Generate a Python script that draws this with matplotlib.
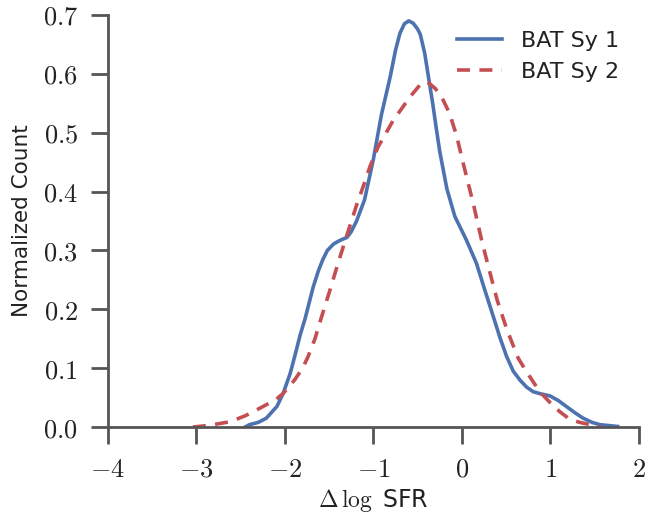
import numpy as np
import matplotlib
matplotlib.use('Agg')
import matplotlib.pyplot as plt

# curves (Delta log SFR, normalized count)
sy1_x = [-2.45, -2.40, -2.30, -2.21, -2.09, -2.02, -1.94, -1.87, -1.83, -1.77,
         -1.68, -1.62, -1.57, -1.52, -1.45, -1.38, -1.30, -1.25, -1.19, -1.10,
         -1.00, -0.91, -0.81, -0.75, -0.70, -0.65, -0.60, -0.55, -0.50, -0.47,
         -0.42, -0.38, -0.33, -0.29, -0.25, -0.17, -0.08, 0.05, 0.165, 0.25,
         0.35, 0.43, 0.505, 0.58, 0.655, 0.73, 0.806, 0.90, 0.994, 1.09,
         1.18, 1.28, 1.37, 1.47, 1.56, 1.76]
sy1_y = [0.0, 0.004, 0.008, 0.015, 0.035, 0.057, 0.091, 0.131, 0.155, 0.185,
         0.238, 0.266, 0.285, 0.300, 0.311, 0.317, 0.322, 0.332, 0.350, 0.386,
         0.455, 0.530, 0.595, 0.640, 0.669, 0.685, 0.690, 0.686, 0.676, 0.667,
         0.635, 0.597, 0.550, 0.508, 0.468, 0.405, 0.358, 0.318, 0.278, 0.237,
         0.190, 0.152, 0.120, 0.095, 0.080, 0.068, 0.060, 0.056, 0.053, 0.045,
         0.035, 0.024, 0.015, 0.008, 0.004, 0.001]

sy2_x = [-3.04, -2.85, -2.62, -2.45, -2.245, -2.10, -2.02, -1.89, -1.80, -1.74,
         -1.66, -1.59, -1.49, -1.40, -1.28, -1.19, -1.10, -1.04, -0.95, -0.87,
         -0.78, -0.68, -0.58, -0.475, -0.42, -0.38, -0.30, -0.22, -0.14, -0.06,
         0.015, 0.128, 0.222, 0.30, 0.40, 0.51, 0.636, 0.73, 0.88, 1.00,
         1.107, 1.22, 1.33, 1.45, 1.56]
sy2_y = [0.0, 0.003, 0.009, 0.019, 0.035, 0.047, 0.057, 0.080, 0.100, 0.119,
         0.150, 0.185, 0.233, 0.278, 0.335, 0.377, 0.415, 0.442, 0.475, 0.496,
         0.520, 0.541, 0.562, 0.581, 0.587, 0.585, 0.575, 0.558, 0.533, 0.495,
         0.448, 0.380, 0.318, 0.272, 0.215, 0.165, 0.117, 0.094, 0.060, 0.041,
         0.026, 0.013, 0.008, 0.004, 0.0]

xticks = [-4, -3, -2, -1, 0, 1, 2]
yticks = [0.0, 0.1, 0.2, 0.3, 0.4, 0.5, 0.6, 0.7]

plt.rcParams['mathtext.fontset'] = 'cm'
plt.rcParams['font.family'] = ['DejaVu Sans']

fig = plt.figure(figsize=(6.46, 5.17), dpi=100)
ax = fig.add_axes([0.167, 0.174, 0.822, 0.797])

ax.plot(sy1_x, sy1_y, color='#4C72B0', linewidth=2.6, label='BAT Sy 1',
        solid_joinstyle='round')
ax.plot(sy2_x, sy2_y, color='#C44E52', linewidth=2.6, dashes=(3.6, 2.6),
        label='BAT Sy 2')

ax.set_xlim(-4, 2)
ax.set_ylim(0, 0.7)
ax.set_xticks(xticks)
ax.set_yticks(yticks)
ax.set_xticklabels([r'$%d$' % t if t >= 0 else r'$-%d$' % -t for t in xticks])
ax.set_yticklabels([r'$%.1f$' % t for t in yticks])

# Quitamos los ejes superior y derecho
ax.spines['top'].set_visible(False)
ax.spines['right'].set_visible(False)
for s in ('left', 'bottom'):
    ax.spines[s].set_linewidth(2.0)
    ax.spines[s].set_color('#555555')
ax.tick_params(direction='out', length=12.5, width=2.0, color='#555555',
               labelsize=19, labelcolor='#222222', pad=9)

ax.set_xlabel(r'$\Delta\,\log$ SFR', fontsize=17, color='#222222', labelpad=3)
ax.set_ylabel('Normalized Count', fontsize=15.5, color='#222222', labelpad=8)

leg = ax.legend(loc='upper right', frameon=False, fontsize=16, handlelength=2.0,
                handletextpad=0.85, bbox_to_anchor=(1.0, 1.01))
for t in leg.get_texts():
    t.set_color('#222222')

fig.savefig('out.png', dpi=100)
